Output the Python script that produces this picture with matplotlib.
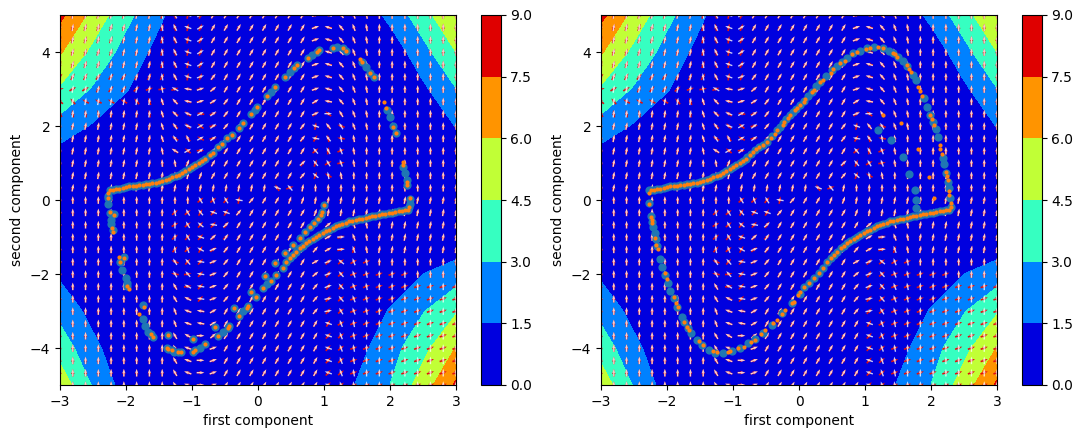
import numpy as np
import matplotlib
matplotlib.use("Agg")
import matplotlib.pyplot as plt

# background field (rows y=5..-5, columns x=-3..3)
grid_x = [-3, -2.5, -2, -1.5, -1, -0.5, 0, 0.5, 1, 1.5, 2, 2.5, 3]
grid_y = [5, 4, 3, 2, 1, 0, -1, -2, -3, -4, -5]
grid_z = [
    [7.9, 5.5, 3.4, 1.8, .2, .2, .2, .2, .2, .2, 1.93, 3.86, 6.1],
    [6.15, 4.1, 2.47, 1.0, .2, .2, .2, .2, .2, .2, .5, 2.5, 4.5],
    [4.3, 2.85, 1.6, .4, .2, .2, .2, .2, .2, .2, .2, 1.2, 2.95],
    [2.4, 1.35, .6, .2, .2, .2, .2, .2, .2, .2, .2, .35, 1.55],
    [.5, .3, .2, .2, .2, .2, .2, .2, .2, .2, .2, .2, .4],
    [.2, .2, .2, .2, .2, .2, .2, .2, .2, .2, .2, .2, .2],
    [.3, .2, .2, .2, .2, .2, .2, .2, .2, .2, .2, .2, .3],
    [1.25, .3, .2, .2, .2, .2, .2, .2, .2, .2, .6, 1.5, 2.25],
    [2.5, 1.0, .2, .2, .2, .2, .2, .2, .2, .4, 1.6, 2.9, 4.33],
    [3.85, 1.88, .4, .2, .2, .2, .2, .2, .2, 1.0, 2.4, 4.05, 6.05],
    [5.4, 2.85, .8, .2, .2, .2, .2, .2, .2, 1.6, 3.0, 5.2, 7.75],
]
levels = [0, 1.5, 3, 4.5, 6, 7.5, 9]

# arrow directions per grid node, a=0deg, b=10deg ... r=170deg, top row first
white_dirs = [
    "iiiiiiiikmqdggggggggcqnlkjjjjjjj",
    "iiiiiiiikmqdggggggggcqnlkjjjjjjj",
    "iiiiiiiikmqdggggggggcqnlkjjjjjjj",
    "iiiiiiiikmqdggggggggcqnlkjjjjjjj",
    "iiiiiiiikmqdggggggggcqnlkjjjjjjj",
    "iiiiiiiikmqcfgggggggcqnlkjjjjjjj",
    "iiiiiiiikprcegggggggcqnlkjjjjjjj",
    "iiiiiiiilnrcdfggggggdrnlkjjjjjjj",
    "iiiiiiiilnqdefggggggcamlkjjjjjjj",
    "iiiiiiiilmqdefgggggfqnmlkjjjjjjj",
    "iiiiiiiilmldefgggggfrnkkjjjjjjjj",
    "iiiiiiiikpdeggggggggnmlkjjjjjjjj",
    "iiiiiiiijkhfgggggggenmlkjjjjjjjj",
    "iiiiiiiiijihgggggggfokkjjjjjjjjj",
    "iiiiiiiiiiiiiiiiiqnijjjjjjjjjjjj",
    "jjjjjjjjjjjmlmrfgghhiiiiiiiiiiii",
    "jjjjjjjjjkmnqqfggggghiiiiiiiiiii",
    "jjjjjjjjjjmoregggggggealkiiiiiii",
    "jjjjjjjjjjmqeggggggggdalkiiiiiii",
    "jjjjjjjjjklpcfggggggfdalkiiiiiii",
    "jjjjjjjjjmnrcfggggggdcolkjjjjjjj",
    "jjjjjjjjjmnrcfggggggecnlkjjjjjjj",
    "jjjjjjjjjmprcfggggggfcnlkjjjjjjj",
    "jjjjjjjjjmprcfggggggfbnlkjjjjjjj",
    "jjjjjjjjjlqrdgggggggfbmlkjjjjjjj",
    "jjjjjjjjjlqrdggggggggqlkjjjjjjjj",
    "jjjjjjjjjmpaeggggggggqlkjjjjjjjj",
    "jjjjjjjjjmqacggggggggqlkjjjjjjjj",
    "jjjjjjjjjmqacggggggggqlkjjjjjjjj",
    "jjjjjjjjjmqacggggggggqlkjjjjjjjj",
    "jjjjjjjjjmqacggggggggqlkjjjjjjjj",
]
red_dirs = [
    "hhhhhhhhhkihggggggggcrnlkjjjjjjj",
    "hhhhhhhhhkihggggggggcrnlkjjjjjjj",
    "hhhhhhhhhkihggggggggcrnlkjjjjjjj",
    "hhhhhhhhhkihggggggggcrnlkjjjjjjj",
    "hhhhhhhhhkihggggggggcrnlkjjjjjjj",
    "fggfffggglihggggggggcrnlkjjjjjjj",
    "bddgffecbcrbegggggggcrnlkjjjjjjj",
    "onppppnlkoqbegggggggernlkjjjjjjj",
    "mkkkjjjkkporcgggggggeomlkjjjjjjj",
    "iiiiiiiikonobfggggggimqlkjjjjjjj",
    "iiiiiiiikpnpbfgggggggkrkjjjjjjjj",
    "iiiiiiiikooaefggggggeickjjjjjjjj",
    "iiiiiiiikkghgggggggghdbkjjjjjjjj",
    "iiiiiiiiijihgggggggfhpkjjjjjjjjj",
    "iiiiiiiiiiiiiiiiimcijjjjjjjjjjjj",
    "jjjjjjjjjjjeefifgghhiiiiiiiiiiii",
    "jjjjjjjjjeegfgfggggghiiiiiiiiiii",
    "jjjjjjjjjdeffggggggggealkiiiiiii",
    "jjjjjjjjjefffegggggggdclkiiiiiii",
    "jjjjjjjjjfegegggggggfdchkiiiiiii",
    "jjjjjjjjjqffdfggggggdfedcjjjjjjj",
    "jjjjjjjjjrbfdfggggggegecccccjjjj",
    "jjjjjjjjjmbfcfggggggfgfccccccccc",
    "jjjjjjjjjmqfcfggggggffeccccccccc",
    "jjjjjjjjjlqrdgggggggffeccccccccc",
    "jjjjjjjjjlqrdgggggggggdccccccccc",
    "jjjjjjjjjmpaeggggggggfeccccccccc",
    "jjjjjjjjjmqacggggggggfeccccccccc",
    "jjjjjjjjjmqacggggggggfeccccccccc",
    "jjjjjjjjjmqacggggggggfeccccccccc",
    "jjjjjjjjjmqacggggggggfeccccccccc",
]

# dense stretches of the trajectories, in both panels
upper_x = [-2.25, -2.2, -2.15, -2.1, -2.05, -2, -1.95, -1.9, -1.85, -1.8, -1.75, -1.7, -1.65, -1.6, -1.55,
           -1.5, -1.45, -1.4, -1.35, -1.3, -1.25, -1.2, -1.15, -1.1, -1.05, -1, -.95, -.9, -.85, -.8]
upper_y = [.27, .28, .29, .31, .33, .35, .37, .38, .39, .40, .41, .43, .44, .45, .47,
           .49, .52, .55, .58, .61, .64, .68, .73, .78, .83, .88, .94, 1.0, 1.06, 1.11]
lower_x = [2.28, 2.23, 2.18, 2.13, 2.08, 2.03, 1.98, 1.93, 1.88, 1.83, 1.78, 1.73, 1.68, 1.63, 1.58, 1.53, 1.48, 1.43, 1.38,
           1.33, 1.28, 1.23, 1.18, 1.13, 1.08, 1.03, .98, .93, .88, .83, .78, .73, .68, .63, .58, .53, .48, .43]
lower_y = [-.27, -.28, -.29, -.31, -.32, -.34, -.35, -.37, -.39, -.4, -.42, -.44, -.46, -.48, -.5, -.52, -.55, -.56, -.58,
           -.61, -.64, -.67, -.71, -.76, -.81, -.85, -.9, -.94, -.99, -1.05, -1.11, -1.17, -1.24, -1.31, -1.4, -1.48, -1.57, -1.67]

# left panel, the scattered part
left_blue_x = [-.73, -.68, -.61, -.55, -.47, -.39, -.29, -.23, -.1, -.05, -.01, .13, .2, .26, .41, .48, .55, .59, .75, .82,
               .89, .93, 1.14, 1.2, 1.29, 1.34, 1.58, 1.64, 1.7, 1.75, 1.95, 2.0, 2.05, 2.09, 2.2, 2.23, 2.25, 2.26, 2.3, 2.3, 2.29,
               .38, .27, .2, .14, .08, -.03, -.15, -.17, -.22, -.29, -.44, -.46, -.53, -.6, -.8, -.88, -.95, -.98, -1.17, -1.21,
               -1.27, -1.31, -1.36, -1.38,
               1.0, .97, .95, .91, .85, .79, .71, .64, .53, .41, .26, .1, -.11, -.36, -.65, -.99, -1.37, -1.59, -1.62, -1.66,
               -1.71, -1.75, -1.74, -2.03, -2.09, -2.06, -2.0, -1.98, -1.98, -2.24, -2.23, -2.22, -2.2, -2.18, -2.27, -2.28, -2.28]
left_blue_y = [1.21, 1.26, 1.44, 1.51, 1.67, 1.76, 1.95, 2.08, 2.33, 2.43, 2.52, 2.81, 2.93, 3.05, 3.33, 3.45, 3.56, 3.65, 3.85, 3.92,
               3.99, 4.05, 4.12, 4.14, 4.10, 4.04, 3.74, 3.6, 3.42, 3.32, 2.43, 2.23, 2.01, 1.80, .88, .73, .55, .41, .02, -.1, -.2,
               -1.83, -2.03, -2.18, -2.28, -2.39, -2.61, -2.86, -2.93, -3.0, -3.14, -3.4, -3.47, -3.57, -3.68, -3.9, -4.0, -4.06, -4.1,
               -4.12, -4.12, -4.1, -4.05, -4.04, -3.99,
               -.14, -.32, -.41, -.52, -.63, -.74, -.87, -1.04, -1.22, -1.44, -1.71, -2.05, -2.48, -2.93, -3.42, -3.76, -3.65, -3.71,
               -3.62, -3.56, -3.41, -3.22, -2.85, -1.53, -1.67, -1.89, -2.12, -2.25, -2.32, -.36, -.54, -.65, -.81, -.38, .1, -.1, .05]
left_orange_x = [-.73, -.68, -.61, -.55, -.47, -.39, -.29, -.23, -.1, -.01, .13, .26, .41, .55, .59, .75, .89, .93, 1.14, 1.29, 1.34,
                 1.54, 1.58, 1.70, 1.75, 1.91, 1.94, 2.05, 2.09, 2.19, 2.2, 2.25, 2.26, 2.3, 2.29,
                 .38, .27, .2, .08, -.03, -.15, -.17, -.29, -.44, -.46, -.6, -.8, -.95, -.98, -1.17, -1.21, -1.31, -1.36, -1.38,
                 1.0, .97, .95, .91, .85, .79, .71, .64, .53, .41, .26, .1, -.11, -.36, -.65, -.99, -1.37, -1.59, -1.62,
                 -1.72, -1.8, -2.1, -2.03, -2.09, -1.98, -1.95, -2.25, -2.18, -2.21, -2.19, -2.28, -2.28]
left_orange_y = [1.21, 1.26, 1.44, 1.51, 1.67, 1.76, 1.95, 2.08, 2.33, 2.52, 2.81, 3.05, 3.33, 3.56, 3.65, 3.85, 3.99, 4.05, 4.12, 4.10, 4.04,
                 3.8, 3.74, 3.42, 3.32, 2.64, 2.49, 1.98, 1.80, 1.03, .95, .5, .4, .05, -.18,
                 -1.83, -2.03, -2.18, -2.39, -2.61, -2.86, -2.93, -3.14, -3.4, -3.47, -3.68, -3.9, -4.06, -4.1, -4.12, -4.12, -4.05, -4.04, -3.99,
                 -.14, -.32, -.41, -.52, -.63, -.74, -.87, -1.04, -1.22, -1.44, -1.71, -2.05, -2.48, -2.93, -3.42, -3.76, -3.65, -3.71, -3.62,
                 -2.9, -3.09, -1.53, -1.58, -1.67, -2.32, -2.41, -.32, -.41, -.75, -.87, .05, .19]

# right panel, the scattered part
right_blue_x = [-.79, -.73, -.67, -.6, -.55, -.49, -.41, -.34, -.29, -.24, -.19, -.14, -.09, -.04, .015, .07, .13, .19, .26, .32, .41, .5, .57,
                .65, .73, .82, .92, 1.03, 1.13, 1.28, 1.36, 1.43, 1.5, 1.57, 1.63, 1.72, 1.78, 1.9, 1.94, 1.99, 2.03, 2.07, 2.1, 2.18, 2.2, 2.22,
                2.25, 2.27, 2.29, 2.3,
                1.20, 1.40, 1.57, 1.67, 1.75, 1.78, 1.78,
                -2.27, -2.28, -2.25, -2.23, -2.21, -2.18, -2.17, -2.15, -2.1, -2.07, -2.03, -1.99, -1.95, -1.89, -1.85, -1.78, -1.74, -1.68, -1.63,
                -1.55, -1.47, -1.37, -1.27, -1.15, -1.02, -.89, -.77, -.67, -.54, -.41, -.26, -.11, .015, .08, .15, .22, .3, .37]
right_blue_y = [1.17, 1.25, 1.35, 1.43, 1.5, 1.57, 1.74, 1.89, 1.98, 2.07, 2.18, 2.29, 2.38, 2.47, 2.57, 2.68, 2.8, 2.93, 3.07, 3.2, 3.36, 3.51, 3.63,
                3.74, 3.85, 3.96, 4.04, 4.1, 4.14, 4.1, 4.04, 3.98, 3.87, 3.75, 3.62, 3.38, 3.24, 2.75, 2.52, 2.3, 2.12, 1.91, 1.69, 1.13, .97, .72,
                .5, .32, .05, -.18,
                1.89, 1.62, 1.15, .7, .27, 0, -.22,
                .27, -.09, -.42, -.59, -.74, -.88, -1.06, -1.24, -1.6, -1.82, -2.03, -2.23, -2.45, -2.66, -2.88, -3.15, -3.31, -3.47, -3.6,
                -3.78, -3.92, -4.05, -4.13, -4.14, -4.08, -4.01, -3.87, -3.77, -3.59, -3.38, -3.06, -2.79, -2.54, -2.36, -2.24, -2.12, -1.98, -1.85]
right_orange_x = [-.75, -.7, -.65, -.6, -.55, -.49, -.43, -.37, -.33, -.25, -.22, -.17, -.14, -.06, -.03, .02, .07, .09, .19, .22, .32, .37, .48, .52,
                  .62, .69, .81, .88, 1.01, 1.07, 1.2, 1.28, 1.42, 1.45, 1.49, 1.63, 1.66, 1.69, 1.81, 1.84, 1.87, 1.99, 2.01, 2.04, 2.13, 2.14, 2.16,
                  2.22, 2.24, 2.25, 2.28, 2.28, 2.3, 2.3,
                  1.27, 1.55, 1.81, 1.97, 2.04,
                  -2.27, -2.27, -2.24, -2.23, -2.22, -2.18, -2.16, -2.13, -2.03, -2.0, -1.9, -1.87, -1.84, -1.74, -1.69, -1.66, -1.52, -1.45, -1.3, -1.24,
                  -1.07, -1.05, -.92, -.83, -.72, -.67, -.57, -.515, -.39, -.34, -.26, -.21, -.11, -.075, -.01, .02, .08, .15, .22, .3, .37]
right_orange_y = [1.22, 1.3, 1.37, 1.43, 1.5, 1.57, 1.68, 1.79, 1.9, 2.04, 2.12, 2.22, 2.29, 2.44, 2.5, 2.58, 2.66, 2.72, 2.93, 2.97, 3.2, 3.24, 3.44, 3.53,
                  3.69, 3.77, 3.95, 3.99, 4.07, 4.12, 4.13, 4.1, 3.98, 3.94, 3.87, 3.65, 3.54, 3.45, 3.06, 2.95, 2.82, 2.29, 2.18, 2.03, 1.5, 1.37, 1.23,
                  .75, .66, .54, .23, .14, -.09, -.18,
                  2.30, 2.07, 1.37, .61, .05,
                  .18, -.11, -.45, -.54, -.63, -1.04, -1.22, -1.32, -1.98, -2.14, -2.63, -2.79, -2.88, -3.29, -3.42, -3.51, -3.81, -3.92, -4.07, -4.12,
                  -4.1, -4.08, -4.01, -3.96, -3.85, -3.78, -3.62, -3.51, -3.32, -3.24, -3.08, -2.97, -2.79, -2.75, -2.57, -2.48, -2.36, -2.24, -2.12, -1.98, -1.85]

xs = np.linspace(-3, 3, len(white_dirs[0]))
ys = np.linspace(5, -5, len(white_dirs))
X, Y = np.meshgrid(xs, ys)


def decode(rows):
    ang = np.array([[(ord(c) - 97) * 10 for c in r] for r in rows], dtype=float)
    return np.cos(np.radians(ang)), np.sin(np.radians(ang))


Ur, Vr = decode(red_dirs)
Uw, Vw = decode(white_dirs)

fig = plt.figure(figsize=(10.82, 4.38), dpi=100)
W, H = 1082.0, 438.0


def panel(left, blue, orange):
    ax = fig.add_axes([left / W, (H - 385) / H, 396 / W, 370 / H])
    cax = fig.add_axes([(left + 421) / W, (H - 385) / H, 19.5 / W, 370 / H])
    cf = ax.contourf(grid_x, grid_y, grid_z, levels=levels, cmap="jet")
    fig.colorbar(cf, cax=cax)
    ax.quiver(X, Y, Ur, Vr, color="#e01010", scale=52, width=0.0042, pivot="mid", headwidth=2.2, headlength=3.2, headaxislength=2.8)
    ax.quiver(X, Y, Uw, Vw, color="white", alpha=0.8, scale=52, width=0.0034, pivot="mid", headwidth=2.2, headlength=3.2, headaxislength=2.8)
    ax.scatter(blue[0], blue[1], s=24, color="tab:blue", zorder=3)
    ax.scatter(orange[0], orange[1], s=9, color="#ff7f0e", linewidths=0, marker="o", zorder=4)
    ax.set_xlim(-3, 3)
    ax.set_ylim(-5, 5)
    ax.set_xlabel("first component")
    ax.set_ylabel("second component")


panel(60, (upper_x + lower_x + left_blue_x, upper_y + lower_y + left_blue_y),
      (upper_x + lower_x + left_orange_x, upper_y + lower_y + left_orange_y))
panel(601, (upper_x + lower_x + right_blue_x, upper_y + lower_y + right_blue_y),
      (upper_x + lower_x + right_orange_x, upper_y + lower_y + right_orange_y))

fig.savefig("out.png", dpi=100)
